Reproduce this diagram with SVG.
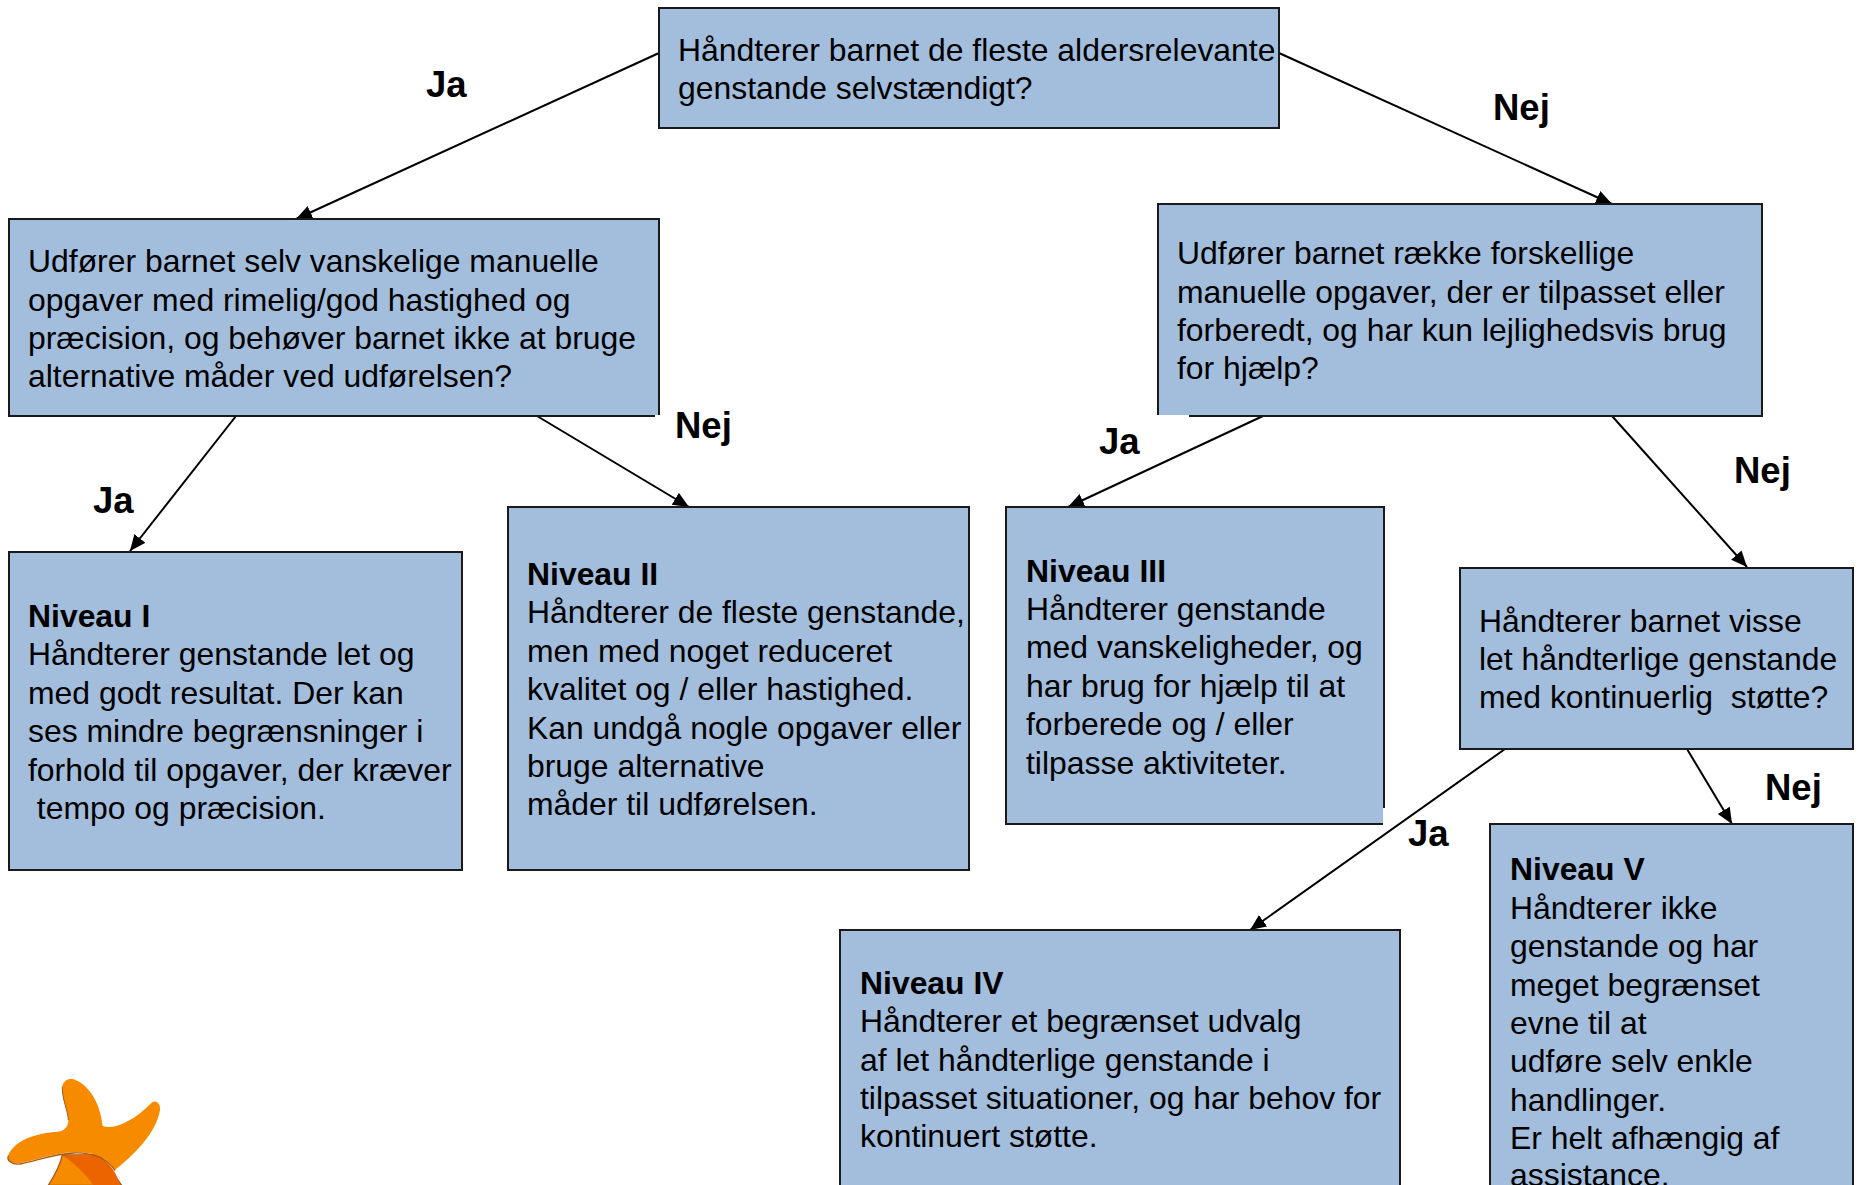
<svg xmlns="http://www.w3.org/2000/svg" width="1858" height="1185" viewBox="0 0 1858 1185">
<defs>
<style>
.box{fill:#a3bddc;stroke:#1a1a1a;stroke-width:2}
text{font-family:"Liberation Sans",Arial,sans-serif;fill:#000}
.t{font-size:31.9px}
.b{font-weight:bold}
.l{font-size:36.5px;font-weight:bold}
.c{stroke:#000;stroke-width:2;fill:none;marker-end:url(#a)}
</style>
<marker id="a" markerUnits="userSpaceOnUse" markerWidth="18" markerHeight="16" refX="16" refY="7" orient="auto"><path d="M0 0L16 7L0 14Z" fill="#000"/></marker>
</defs>
<rect width="1858" height="1185" fill="#fff"/>
<g id="connectors">
<path class="c" d="M659 53L296 219"/>
<path class="c" d="M1279 53L1612 204"/>
<path class="c" d="M236 416L130 551"/>
<path class="c" d="M537 416L689 507"/>
<path class="c" d="M1263 416L1068 507"/>
<path class="c" d="M1612 416L1747 567"/>
<path class="c" d="M1505 749L1250 930"/>
<path class="c" d="M1687 749L1732 824"/>
</g>
<g id="q-top"><rect class="box" x="659" y="8" width="620" height="120"/>
<text class="t"><tspan x="678" y="61">Håndterer barnet de fleste aldersrelevante</tspan><tspan x="678" y="99">genstande selvstændigt?</tspan></text></g>
<g id="q-left"><rect class="box" x="9" y="219" width="650" height="197"/>
<rect x="655" y="415" width="6" height="3" fill="#fff"/>
<text class="t"><tspan x="28" y="272">Udfører barnet selv vanskelige manuelle</tspan><tspan x="28" y="311">opgaver med rimelig/god hastighed og</tspan><tspan x="28" y="349">præcision, og behøver barnet ikke at bruge</tspan><tspan x="28" y="387">alternative måder ved udførelsen?</tspan></text></g>
<g id="q-right"><rect class="box" x="1158" y="204" width="604" height="212"/>
<rect x="1156" y="415" width="33" height="3" fill="#fff"/>
<text class="t"><tspan x="1177" y="264">Udfører barnet række forskellige</tspan><tspan x="1177" y="303">manuelle opgaver, der er tilpasset eller</tspan><tspan x="1177" y="341">forberedt, og har kun lejlighedsvis brug</tspan><tspan x="1177" y="379">for hjælp?</tspan></text></g>
<g id="niveau-1"><rect class="box" x="9" y="552" width="453" height="318"/>
<text class="t"><tspan class="b" x="28" y="627">Niveau I</tspan><tspan x="28" y="665">Håndterer genstande let og</tspan><tspan x="28" y="704">med godt resultat. Der kan</tspan><tspan x="28" y="742">ses mindre begrænsninger i</tspan><tspan x="28" y="781">forhold til opgaver, der kræver</tspan><tspan x="28" y="819" xml:space="preserve"> tempo og præcision.</tspan></text></g>
<g id="niveau-2"><rect class="box" x="508" y="507" width="461" height="363"/>
<text class="t"><tspan class="b" x="527" y="585">Niveau II</tspan><tspan x="527" y="623">Håndterer de fleste genstande,</tspan><tspan x="527" y="662">men med noget reduceret</tspan><tspan x="527" y="700">kvalitet og / eller hastighed.</tspan><tspan x="527" y="739">Kan undgå nogle opgaver eller</tspan><tspan x="527" y="777">bruge alternative</tspan><tspan x="527" y="815">måder til udførelsen.</tspan></text></g>
<g id="niveau-3"><rect class="box" x="1006" y="507" width="378" height="317"/>
<rect x="1383" y="808" width="3" height="18" fill="#fff"/>
<text class="t"><tspan class="b" x="1026" y="582">Niveau III</tspan><tspan x="1026" y="620">Håndterer genstande</tspan><tspan x="1026" y="658">med vanskeligheder, og</tspan><tspan x="1026" y="697">har brug for hjælp til at</tspan><tspan x="1026" y="735">forberede og / eller</tspan><tspan x="1026" y="774">tilpasse aktiviteter.</tspan></text></g>
<g id="q-lower"><rect class="box" x="1460" y="568" width="393" height="181"/>
<text class="t"><tspan x="1479" y="632">Håndterer barnet visse</tspan><tspan x="1479" y="670">let håndterlige genstande</tspan><tspan x="1479" y="708" xml:space="preserve">med kontinuerlig  støtte?</tspan></text></g>
<g id="niveau-4"><rect class="box" x="840" y="930" width="560" height="265"/>
<text class="t"><tspan class="b" x="860" y="994">Niveau IV</tspan><tspan x="860" y="1032">Håndterer et begrænset udvalg</tspan><tspan x="860" y="1071">af let håndterlige genstande i</tspan><tspan x="860" y="1109">tilpasset situationer, og har behov for</tspan><tspan x="860" y="1147">kontinuert støtte.</tspan></text></g>
<g id="niveau-5"><rect class="box" x="1490" y="824" width="363" height="371"/>
<text class="t"><tspan class="b" x="1510" y="880">Niveau V</tspan><tspan x="1510" y="919">Håndterer ikke</tspan><tspan x="1510" y="957">genstande og har</tspan><tspan x="1510" y="996">meget begrænset</tspan><tspan x="1510" y="1034">evne til at</tspan><tspan x="1510" y="1072">udføre selv enkle</tspan><tspan x="1510" y="1111">handlinger.</tspan><tspan x="1510" y="1149">Er helt afhængig af</tspan><tspan x="1510" y="1186">assistance.</tspan></text></g>
<g id="labels">
<text class="l" x="426" y="97">Ja</text>
<text class="l" x="1493" y="120">Nej</text>
<text class="l" x="675" y="438">Nej</text>
<text class="l" x="93" y="513">Ja</text>
<text class="l" x="1099" y="454">Ja</text>
<text class="l" x="1734" y="483">Nej</text>
<text class="l" x="1408" y="846">Ja</text>
<text class="l" x="1765" y="800">Nej</text>
</g>
<g id="logo" transform="translate(0 1040) scale(.3333)">
<path d="M145 436C165 405 180 380 187 345L300 345L365 436Z" fill="#f68b00" stroke="#a85a10" stroke-width="4"/>
<path d="M190 348C225 370 260 405 280 436L360 436C350 395 320 350 270 342Z" fill="#ec6400"/>
<path d="M187 140C190 122 205 115 220 118C260 130 300 180 308 258C340 270 400 245 455 188C470 178 482 192 480 210C470 270 420 330 345 390C320 350 280 335 220 337C160 340 110 360 60 370C35 373 20 360 25 345C45 300 110 280 165 276C190 275 205 265 205 240C205 215 185 175 187 140Z" fill="#f68b00"/>
<path d="M345 392C320 352 280 337 220 339C160 342 110 362 60 372C35 375 20 362 25 347" fill="none" stroke="#a85a10" stroke-width="4"/>
<path d="M187 140C185 175 205 215 205 240" fill="none" stroke="#a85a10" stroke-width="3"/>
</g>
</svg>
